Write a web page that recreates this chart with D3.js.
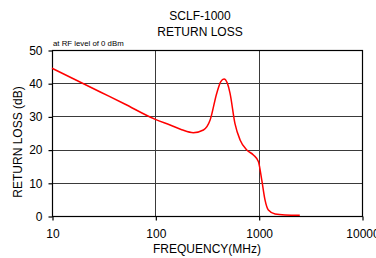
<!DOCTYPE html>
<html>
<head>
<meta charset="utf-8">
<script src="https://cdn.jsdelivr.net/npm/d3@7"></script>
<style>
  html, body { margin: 0; padding: 0; background: #fff; }
  svg { display: block; font-family: "Liberation Sans", Arial, sans-serif; }
</style>
</head>
<body>
<div id="chart"></div>
<script>
// return loss data
var freqs = [10, 30, 50, 100, 139, 180, 233, 292, 339, 393, 430, 462, 500, 528, 589, 661, 767, 889, 993, 1072, 1153, 1241, 1442, 1800, 2500];
var loss = [44.5, 37.2, 33.8, 29.1, 27.4, 26.0, 25.1, 25.9, 28.9, 37.0, 40.5, 41.3, 39.8, 37.0, 27.9, 22.9, 19.9, 18.4, 16.4, 10.8, 4.8, 1.8, 0.6, 0.3, 0.2];
var xTicks = [10, 100, 1000, 10000];
var yTicks = [0, 10, 20, 30, 40, 50];

var WIDTH = 376, HEIGHT = 258;
var PL = 52, PR = 362, PT = 50, PB = 216;

var svg = d3.select("#chart").append("svg")
    .attr("width", WIDTH)
    .attr("height", HEIGHT);

var x = d3.scaleLog().domain([10, 10000]).range([PL, PR]);
var y = d3.scaleLinear().domain([0, 50]).range([PB, PT]);

// grid
svg.append("g").selectAll("line")
    .data(yTicks.slice(1, -1)).enter()
    .append("line")
    .attr("x1", PL).attr("x2", PR)
    .attr("y1", function (d) { return Math.round(y(d)) + 0.5; })
    .attr("y2", function (d) { return Math.round(y(d)) + 0.5; })
    .attr("stroke", "#3a3a3a").attr("stroke-width", 1);

svg.append("g").selectAll("line")
    .data(xTicks.slice(1, -1)).enter()
    .append("line")
    .attr("y1", PT).attr("y2", PB)
    .attr("x1", function (d) { return Math.round(x(d)) + 0.5; })
    .attr("x2", function (d) { return Math.round(x(d)) + 0.5; })
    .attr("stroke", "#3a3a3a").attr("stroke-width", 1);

// border
svg.append("rect")
    .attr("x", PL + 0.5).attr("y", PT + 0.5)
    .attr("width", PR - PL).attr("height", PB - PT)
    .attr("fill", "none").attr("stroke", "#000").attr("stroke-width", 1.2);

// axes
var yAxis = svg.append("g")
    .attr("transform", "translate(" + (PL + 0.5) + ",0.5)")
    .call(d3.axisLeft(y).tickValues(yTicks).tickSize(4).tickPadding(6));
var xAxis = svg.append("g")
    .attr("transform", "translate(0.5," + (PB + 0.5) + ")")
    .call(d3.axisBottom(x).tickValues(xTicks).tickFormat(d3.format("d")).tickSize(4).tickPadding(9));

[yAxis, xAxis].forEach(function (g) {
    g.select(".domain").remove();
    g.selectAll("line").attr("stroke", "#000").attr("stroke-width", 1.2);
    g.selectAll("text").attr("font-size", "12px").attr("fill", "#000")
        .attr("font-family", "Liberation Sans, Arial, sans-serif");
});

// curve
var line = d3.line()
    .x(function (d, i) { return x(freqs[i]); })
    .y(function (d) { return y(d); })
    .curve(d3.curveMonotoneX);

svg.append("path")
    .datum(loss)
    .attr("d", line)
    .attr("fill", "none")
    .attr("stroke", "#ff0000")
    .attr("stroke-width", 1.5);

// titles
svg.append("text").attr("x", 200).attr("y", 20)
    .attr("text-anchor", "middle").attr("font-size", "12px")
    .text("SCLF-1000");
svg.append("text").attr("x", 200).attr("y", 35.5)
    .attr("text-anchor", "middle").attr("font-size", "12px")
    .text("RETURN LOSS");
svg.append("text").attr("x", 53).attr("y", 46)
    .attr("font-size", "7.8px")
    .text("at RF level of 0 dBm");

svg.append("text").attr("x", 207).attr("y", 253)
    .attr("text-anchor", "middle").attr("font-size", "12px")
    .text("FREQUENCY(MHz)");
svg.append("text")
    .attr("transform", "translate(21.5,142) rotate(-90)")
    .attr("text-anchor", "middle").attr("font-size", "12px")
    .text("RETURN LOSS (dB)");
</script>
</body>
</html>
